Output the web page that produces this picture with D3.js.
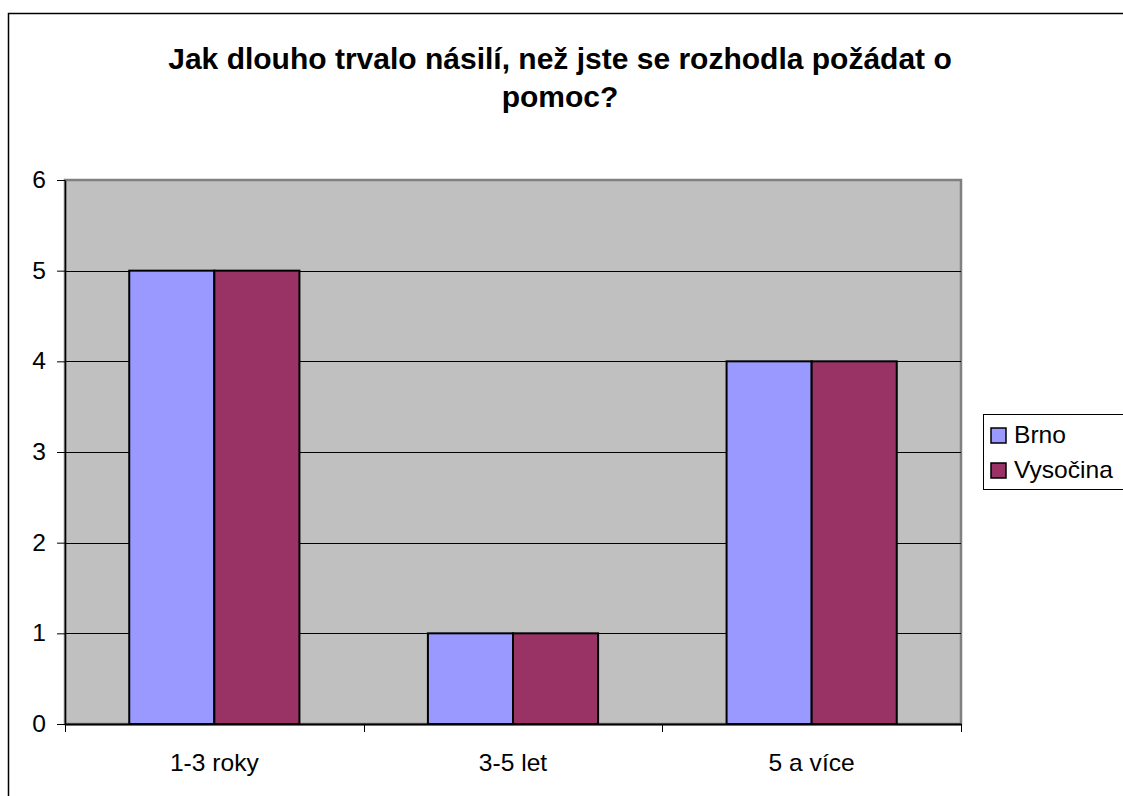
<!DOCTYPE html>
<html>
<head>
<meta charset="utf-8">
<script src="https://cdn.jsdelivr.net/npm/d3@7"></script>
<style>
  body { margin: 0; background: #fff; }
  svg { display: block; font-family: "Liberation Sans", Arial, sans-serif; }
</style>
</head>
<body>
<svg id="chart"></svg>
<script>
// data
const categories = ["1-3 roky", "3-5 let", "5 a více"]
const seriesNames = ["Brno", "Vysočina"]
const brno = [5, 1, 4]
const vysocina = [5, 1, 4]
const yTicks = [0, 1, 2, 3, 4, 5, 6]
const titleLines = ["Jak dlouho trvalo násilí, než jste se rozhodla požádat o", "pomoc?"]

const colors = ["#9999FF", "#993366"]
const width = 1123, height = 796
const margin = { left: 65, top: 180, right: 162, bottom: 72 }
const labelSize = 23, stretch = 1.07   // the original text is drawn a bit wide

const svg = d3.select("#chart")
    .attr("width", width)
    .attr("height", height)

// outer chart border (runs off the right/bottom edge)
svg.append("rect")
    .attr("x", 8.5).attr("y", 13.5)
    .attr("width", width + 20).attr("height", height + 20)
    .attr("fill", "#fff").attr("stroke", "#000").attr("stroke-width", 1.5)

const plotW = width - margin.left - margin.right
const plotH = height - margin.top - margin.bottom

const x = d3.scaleBand()
    .domain(categories)
    .range([margin.left, margin.left + plotW])
    .paddingInner(0)
    .paddingOuter(0)

const inner = d3.scaleBand()
    .domain(seriesNames)
    .range([0, x.bandwidth()])
    .paddingInner(0)
    .paddingOuter(0.755)

const y = d3.scaleLinear()
    .domain([0, 6])
    .range([margin.top + plotH, margin.top])

// plot area
svg.append("rect")
    .attr("x", margin.left).attr("y", margin.top)
    .attr("width", plotW).attr("height", plotH)
    .attr("fill", "#C0C0C0")
    .attr("stroke", "#808080").attr("stroke-width", 2.5)

// gridlines
svg.append("g")
    .selectAll("line")
    .data(yTicks.filter(d => d > 0 && d < 6))
    .join("line")
    .attr("x1", margin.left).attr("x2", margin.left + plotW)
    .attr("y1", d => Math.round(y(d)) + 0.5).attr("y2", d => Math.round(y(d)) + 0.5)
    .attr("stroke", "#000").attr("stroke-width", 1)

// bars
const table = categories.map((c, i) => ({ cat: c, values: [brno[i], vysocina[i]] }))
const groups = svg.append("g")
    .selectAll("g")
    .data(table)
    .join("g")
    .attr("transform", d => `translate(${x(d.cat)},0)`)

groups.selectAll("rect")
    .data(d => d.values.map((v, i) => ({ name: seriesNames[i], value: v, i })))
    .join("rect")
    .attr("x", d => inner(d.name))
    .attr("y", d => y(d.value))
    .attr("width", inner.bandwidth())
    .attr("height", d => y(0) - y(d.value))
    .attr("fill", d => colors[d.i])
    .attr("stroke", "#000").attr("stroke-width", 2)

// y axis
const yAxis = svg.append("g")
    .attr("transform", `translate(${margin.left},0)`)
    .call(d3.axisLeft(y).tickValues(yTicks).tickFormat(d3.format("d"))
        .tickSize(8).tickPadding(11).tickSizeOuter(0))
yAxis.select(".domain").attr("stroke", "#000").attr("stroke-width", 1.5)
yAxis.selectAll(".tick line").attr("stroke", "#000")
yAxis.selectAll("text")
    .attr("font-size", labelSize).attr("fill", "#000")
    .attr("font-family", "'Liberation Sans', Arial, sans-serif")
    .attr("x", 0)
    .attr("transform", `translate(-19,0) scale(${stretch},1)`)

// x axis, ticks between categories
const xAxis = svg.append("g")
    .attr("transform", `translate(0,${margin.top + plotH})`)
    .call(d3.axisBottom(x).tickSize(0).tickPadding(31))
xAxis.select(".domain").attr("stroke", "#000").attr("stroke-width", 2)
xAxis.selectAll("text")
    .attr("font-size", labelSize).attr("fill", "#000")
    .attr("font-family", "'Liberation Sans', Arial, sans-serif")
    .attr("transform", `scale(${stretch},1)`)
xAxis.selectAll(".sep")
    .data(d3.range(categories.length + 1))
    .join("line")
    .attr("class", "sep")
    .attr("x1", i => Math.round(margin.left + i * x.step()) + 0.5)
    .attr("x2", i => Math.round(margin.left + i * x.step()) + 0.5)
    .attr("y1", 0).attr("y2", 8)
    .attr("stroke", "#000")

// title
svg.append("text")
    .attr("y", 69)
    .attr("text-anchor", "middle")
    .attr("font-size", 30).attr("font-weight", "bold")
    .selectAll("tspan")
    .data(titleLines)
    .join("tspan")
    .attr("x", 560)
    .attr("dy", (d, i) => i === 0 ? 0 : 38)
    .text(d => d)

// legend
const legend = svg.append("g").attr("transform", "translate(983,414)")
legend.append("rect")
    .attr("x", 0.5).attr("y", 0.5).attr("width", 160).attr("height", 75)
    .attr("fill", "#fff").attr("stroke", "#000")
const item = legend.selectAll(".item")
    .data(seriesNames)
    .join("g")
    .attr("class", "item")
    .attr("transform", (d, i) => `translate(8,${14 + i * 35})`)
item.append("rect")
    .attr("width", 15).attr("height", 15)
    .attr("fill", (d, i) => colors[i])
    .attr("stroke", "#000").attr("stroke-width", 1.5)
item.append("text")
    .attr("transform", `translate(23,15) scale(${stretch},1)`)
    .attr("font-size", labelSize)
    .text(d => d)
</script>
</body>
</html>
